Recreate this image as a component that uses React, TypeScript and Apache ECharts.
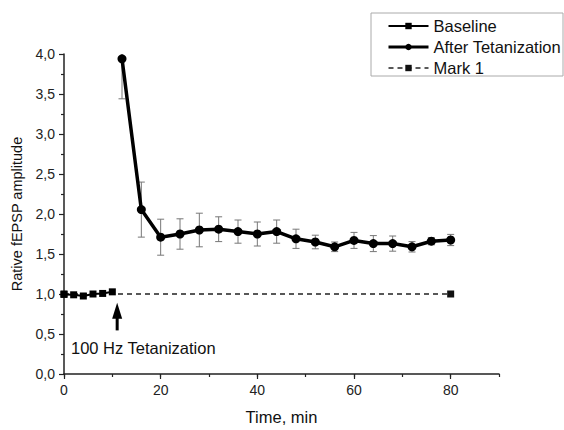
import React, { useEffect, useRef } from "react";
import * as echarts from "echarts";

// Baseline recordings before stimulation
const baselineX = [0, 2, 4, 6, 8, 10];
const baselineY = [0.995, 0.99, 0.975, 1.0, 1.007, 1.027];

// Responses after the tetanic stimulation, with error bar half-widths
const afterX = [12, 16, 20, 24, 28, 32, 36, 40, 44, 48, 52, 56, 60, 64, 68, 72, 76, 80];
const afterY = [3.94, 2.055, 1.71, 1.75, 1.8, 1.81, 1.78, 1.75, 1.78, 1.69, 1.65, 1.59, 1.67, 1.63, 1.63, 1.59, 1.66, 1.675];
const afterErr = [0.5, 0.344, 0.225, 0.19, 0.21, 0.155, 0.145, 0.15, 0.145, 0.12, 0.085, 0.06, 0.1, 0.1, 0.095, 0.065, 0.045, 0.07];

// Reference level
const markX = [0, 80];
const markY = [1.0, 1.0];

// Stimulation arrow: time, shaft start and tip amplitude
const arrowX = 11;
const arrowFrom = 0.545;
const arrowTo = 0.89;

const xMajorTicks = [0, 20, 40, 60, 80];

const FONT = "'Liberation Sans', Arial, sans-serif";

export default function App() {
  const ref = useRef<HTMLDivElement>(null);

  useEffect(() => {
    document.body.style.margin = "0";
    if (!ref.current) return;
    const chart = echarts.init(ref.current, undefined, { renderer: "svg" });

    const errData = afterX.map((x, i) => [x, afterY[i], afterErr[i]]);
    const axisColor = "#222";
    const dash = [5, 4];

    chart.setOption({
      animation: false,
      backgroundColor: "#fff",
      textStyle: { fontFamily: FONT },
      grid: { left: 64, right: 65, top: 54, bottom: 50, containLabel: false },
      legend: {
        orient: "vertical",
        left: 387,
        top: 17.5,
        padding: 0,
        itemWidth: 40,
        itemHeight: 8,
        itemGap: 4,
        textStyle: { fontSize: 16.5, color: "#111", fontFamily: FONT },
        data: [
          { name: "Baseline", lineStyle: { width: 2 } },
          { name: "After Tetanization", lineStyle: { width: 3 } },
          { name: "Mark 1", lineStyle: { width: 1.3, type: dash } },
        ],
      },
      graphic: [
        {
          type: "rect",
          shape: { x: 371, y: 13, width: 192, height: 63 },
          style: { fill: "none", stroke: "#aaa", lineWidth: 1 },
          z: -1,
        },
        {
          type: "text",
          x: 71,
          y: 348,
          style: {
            text: "100 Hz Tetanization",
            fontSize: 16.5,
            fontFamily: FONT,
            fill: "#111",
            verticalAlign: "middle",
          },
        },
      ],
      xAxis: [
        {
          type: "value",
          min: 0,
          max: 90,
          interval: 10,
          name: "Time, min",
          nameLocation: "middle",
          nameGap: 34,
          nameTextStyle: { fontSize: 16.5, color: "#111", fontFamily: FONT },
          axisLine: { show: true, lineStyle: { color: axisColor, width: 1.5 } },
          axisTick: { show: true, length: 3, lineStyle: { color: axisColor, width: 1.2 } },
          axisLabel: { show: false },
          splitLine: { show: false },
        },
        {
          type: "value",
          min: 0,
          max: 90,
          position: "bottom",
          axisLine: { show: false },
          axisTick: {
            show: true,
            length: 5,
            customValues: xMajorTicks,
            lineStyle: { color: axisColor, width: 1.2 },
          },
          axisLabel: {
            show: true,
            customValues: xMajorTicks,
            fontSize: 14,
            color: "#222",
            margin: 9,
            fontFamily: FONT,
          },
          splitLine: { show: false },
        },
      ],
      yAxis: {
        type: "value",
        min: 0,
        max: 4,
        interval: 0.5,
        name: "Rative fEPSP amplitude",
        nameLocation: "middle",
        nameGap: 34,
        nameTextStyle: { fontSize: 14.5, color: "#111", fontFamily: FONT },
        axisLine: { show: true, lineStyle: { color: axisColor, width: 1.5 } },
        axisTick: { show: true, length: 5, lineStyle: { color: axisColor, width: 1.2 } },
        minorTick: { show: true, splitNumber: 2, length: 3, lineStyle: { color: axisColor, width: 1.2 } },
        axisLabel: {
          fontSize: 14,
          color: "#222",
          margin: 9,
          fontFamily: FONT,
          formatter: (v: number) => v.toFixed(1).replace(".", ","),
        },
        splitLine: { show: false },
      },
      series: [
        {
          type: "custom",
          name: "errors",
          xAxisIndex: 0,
          clip: true,
          z: 1,
          data: errData,
          renderItem: (params: any, api: any) => {
            const x = api.value(0);
            const y = api.value(1);
            const e = api.value(2);
            const top = api.coord([x, y + e]);
            const bot = api.coord([x, y - e]);
            const hw = 3.5;
            const style = { stroke: "#777", lineWidth: 1 };
            return {
              type: "group",
              children: [
                { type: "line", shape: { x1: top[0], y1: top[1], x2: bot[0], y2: bot[1] }, style },
                { type: "line", shape: { x1: top[0] - hw, y1: top[1], x2: top[0] + hw, y2: top[1] }, style },
                { type: "line", shape: { x1: bot[0] - hw, y1: bot[1], x2: bot[0] + hw, y2: bot[1] }, style },
              ],
            };
          },
        },
        {
          type: "custom",
          name: "arrow",
          xAxisIndex: 0,
          z: 5,
          data: [[arrowX, arrowFrom, arrowTo]],
          renderItem: (params: any, api: any) => {
            const x = api.value(0);
            const base = api.coord([x, api.value(1)]);
            const tip = api.coord([x, api.value(2)]);
            const headH = 16;
            const headW = 10;
            return {
              type: "group",
              children: [
                {
                  type: "line",
                  shape: { x1: base[0], y1: base[1], x2: tip[0], y2: tip[1] + headH - 1 },
                  style: { stroke: "#000", lineWidth: 3 },
                },
                {
                  type: "polygon",
                  shape: {
                    points: [
                      [tip[0], tip[1]],
                      [tip[0] + headW / 2, tip[1] + headH],
                      [tip[0] - headW / 2, tip[1] + headH],
                    ],
                  },
                  style: { fill: "#000" },
                },
              ],
            };
          },
        },
        {
          type: "line",
          name: "Mark 1",
          xAxisIndex: 0,
          z: 2,
          data: markX.map((x, i) => [x, markY[i]]),
          symbol: "rect",
          symbolSize: 7,
          itemStyle: { color: "#111" },
          lineStyle: { color: "#222", width: 1.3, type: dash },
        },
        {
          type: "line",
          name: "Baseline",
          xAxisIndex: 0,
          z: 3,
          data: baselineX.map((x, i) => [x, baselineY[i]]),
          symbol: "rect",
          symbolSize: 7,
          itemStyle: { color: "#000" },
          lineStyle: { color: "#000", width: 2 },
        },
        {
          type: "line",
          name: "After Tetanization",
          xAxisIndex: 0,
          z: 4,
          data: afterX.map((x, i) => [x, afterY[i]]),
          symbol: "circle",
          symbolSize: 9,
          itemStyle: { color: "#000" },
          lineStyle: { color: "#000", width: 3.5 },
        },
      ],
    });

    return () => chart.dispose();
  }, []);

  return <div ref={ref} style={{ width: 564, height: 430 }} />;
}
